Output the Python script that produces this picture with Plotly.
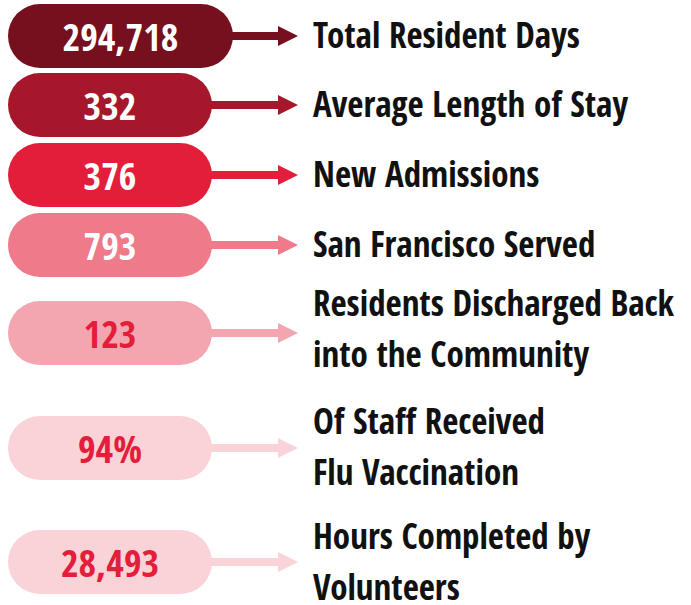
import plotly.graph_objects as go

# values shown in the pills
values = [294718, 332, 376, 793, 123, 94, 28493]
units = ["", "", "", "", "", "%", ""]
labels = [
    "Total Resident Days",
    "Average Length of Stay",
    "New Admissions",
    "San Francisco Served",
    "Residents Discharged Back<br>into the Community",
    "Of Staff Received<br>Flu Vaccination",
    "Hours Completed by<br>Volunteers",
]

# styling / layout (pixel units, axes map 1:1 to the canvas)
pill_colors = ["#76101E", "#A7172B", "#E31E3A", "#EF7A8A", "#F4A6B0", "#FAD3D9", "#FAD3D9"]
text_colors = ["white", "white", "white", "white", "#E31E3A", "#E31E3A", "#E31E3A"]
pill_widths = [225, 204, 204, 204, 204, 204, 204]
row_y = [36, 105, 175, 245, 333, 448, 562]
label_y = [34, 103, 173, 243, 328, 446, 561]
W, H = 691, 605
PILL_LEFT = 8
PILL_H = 64
NUM_DY = 5  # numbers sit a little below the pill centre
ARROW_TIP = 298
LABEL_X = 311
LINE_PITCH = 51
FONT = "Open Sans Condensed"

centers = [PILL_LEFT + w / 2 for w in pill_widths]

fig = go.Figure()

# pills
fig.add_trace(go.Bar(
    orientation="h", y=row_y, base=PILL_LEFT, x=pill_widths,
    width=PILL_H, marker=dict(color=pill_colors, cornerradius=PILL_H / 2, line_width=0),
    hoverinfo="skip", showlegend=False,
))

# arrows: shaft + arrow head marker
for i, y in enumerate(row_y):
    x0 = PILL_LEFT + pill_widths[i] - 4
    fig.add_trace(go.Scatter(
        x=[x0, ARROW_TIP - 14], y=[y, y], mode="lines",
        line=dict(color=pill_colors[i], width=8), hoverinfo="skip", showlegend=False,
    ))
    fig.add_trace(go.Scatter(
        x=[ARROW_TIP], y=[y], mode="markers",
        marker=dict(symbol="arrow-right", size=20, color=pill_colors[i], line_width=0),
        hoverinfo="skip", showlegend=False,
    ))

# numbers inside pills
fig.add_trace(go.Scatter(
    x=centers, y=[y + NUM_DY for y in row_y], mode="text",
    text=[f"{v:,}{u}" for v, u in zip(values, units)],
    textposition="middle center",
    textfont=dict(family=FONT, size=38, color=text_colors, weight="bold"),
    hoverinfo="skip", showlegend=False,
))

# labels, one annotation per line
for i, lab in enumerate(labels):
    lines = lab.split("<br>")
    n = len(lines)
    for j, line in enumerate(lines):
        fig.add_annotation(
            x=LABEL_X, y=label_y[i] + (j - (n - 1) / 2) * LINE_PITCH,
            xref="x", yref="y", text=line, showarrow=False,
            xanchor="left", yanchor="middle",
            font=dict(family=FONT, size=35, color="#111111", weight="bold"),
        )

fig.update_layout(
    width=W, height=H, margin=dict(l=0, r=0, t=0, b=0),
    barmode="overlay", plot_bgcolor="white", paper_bgcolor="white",
    xaxis=dict(range=[0, W], visible=False, fixedrange=True),
    yaxis=dict(range=[H, 0], visible=False, fixedrange=True),
)

fig.write_html("out.html", config={"displayModeBar": False},
               post_script="document.body.style.margin='0';")
